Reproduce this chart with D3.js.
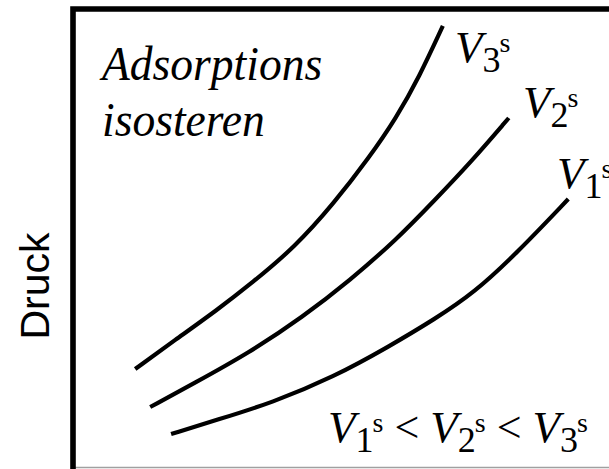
<!DOCTYPE html>
<html><head><meta charset="utf-8">
<script src="https://cdn.jsdelivr.net/npm/d3@7"></script>
<style>html,body{margin:0;padding:0;background:#fff;overflow:hidden}svg{display:block}</style>
</head><body>
<svg id="c" width="609" height="469"></svg>
<script>
// ---- data (temperature vs. pressure, arbitrary units 0..100) ----
const temperature1 = [18.3, 26.9, 37.1, 48.7, 58.8, 67.5, 74.8, 82.8, 92.4];
const pressure1    = [7.2, 10.3, 14.0, 19.7, 26.2, 32.3, 38.0, 46.7, 58.5];
const temperature2 = [14.4, 22.6, 32.8, 42.9, 51.7, 60.3, 67.5, 74.1, 81.3];
const pressure2    = [13.1, 18.3, 24.9, 32.8, 40.8, 49.6, 58.3, 66.4, 76.2];
const temperature3 = [11.6, 19.0, 26.9, 33.4, 41.4, 48.7, 55.2, 60.3, 64.6, 69.0];
const pressure3    = [21.4, 27.7, 34.3, 40.2, 48.0, 57.6, 67.5, 76.2, 85.2, 96.3];
const seriesIndex  = ["1", "2", "3"];
const yAxisLabel   = "Druck";
const titleLines   = ["Adsorptions", "isosteren"];

const series = [
  {sub: seriesIndex[0], xs: temperature1, ys: pressure1},
  {sub: seriesIndex[1], xs: temperature2, ys: pressure2},
  {sub: seriesIndex[2], xs: temperature3, ys: pressure3}
];

// ---- layout ----
const svg = d3.select("#c");
const pL = 73, pT = 9, pR = 609, pB = 467;
const x = d3.scaleLinear().domain([0, 100]).range([pL, pR]);
const y = d3.scaleLinear().domain([0, 100]).range([pB, pT]);
const serif = "Liberation Serif";
const sans = "Liberation Sans";

// frame
svg.append("line").attr("x1", pL + 2).attr("x2", 609).attr("y1", pB + 0.5).attr("y2", pB + 0.5)
  .attr("stroke", "#a0a0a0").attr("stroke-width", 1.6);
svg.append("path")
  .attr("d", `M${pL},469 L${pL},${pT} L609,${pT}`)
  .attr("fill", "none").attr("stroke", "#000").attr("stroke-width", 5.6)
  .attr("stroke-linejoin", "miter");

// curves
const line = d3.line().x(d => x(d[0])).y(d => y(d[1])).curve(d3.curveBasis);
series.forEach(s => {
  svg.append("path")
    .attr("d", line(s.xs.map((v, i) => [v, s.ys[i]])))
    .attr("fill", "none").attr("stroke", "#000").attr("stroke-width", 4.2)
    .attr("stroke-linecap", "butt");
});

// V_i^s label helper
function addV(text, sub) {
  text.append("tspan").attr("font-style", "italic").attr("font-size", 45).text("V");
  text.append("tspan").attr("font-size", 36).attr("dy", 10).text(sub);
  text.append("tspan").attr("font-size", 28).attr("dx", -1).attr("dy", -20).text("s");
}

const labelPos = [[557, 188], [523, 117], [455, 62]];
series.forEach((s, i) => {
  const t = svg.append("text").attr("x", labelPos[i][0]).attr("y", labelPos[i][1])
    .attr("font-family", serif).attr("fill", "#000");
  addV(t, s.sub);
});

// inequality
const f = svg.append("text").attr("x", 328).attr("y", 442).attr("font-family", serif).attr("fill", "#000")
  .style("white-space", "pre");
series.forEach((s, i) => {
  if (i > 0) {
    f.append("tspan").attr("font-size", 44).attr("dy", 10).text(" < ");
    f.append("tspan").attr("font-style", "italic").attr("font-size", 45).text("V");
    f.append("tspan").attr("font-size", 36).attr("dy", 10).text(s.sub);
    f.append("tspan").attr("font-size", 28).attr("dx", -1).attr("dy", -20).text("s");
  } else {
    addV(f, s.sub);
  }
});

// title
svg.append("text").attr("font-family", serif).attr("font-style", "italic").attr("font-size", 49)
  .attr("transform", "translate(102,0) scale(0.93,1)")
  .selectAll("tspan").data(titleLines).join("tspan")
  .attr("x", 0).attr("y", (d, i) => 80 + i * 56).text(d => d);

// y axis label
svg.append("text").attr("font-family", sans).attr("font-size", 41)
  .attr("text-anchor", "middle")
  .attr("transform", "translate(49,286) rotate(-90)").text(yAxisLabel);
</script>
</body></html>
